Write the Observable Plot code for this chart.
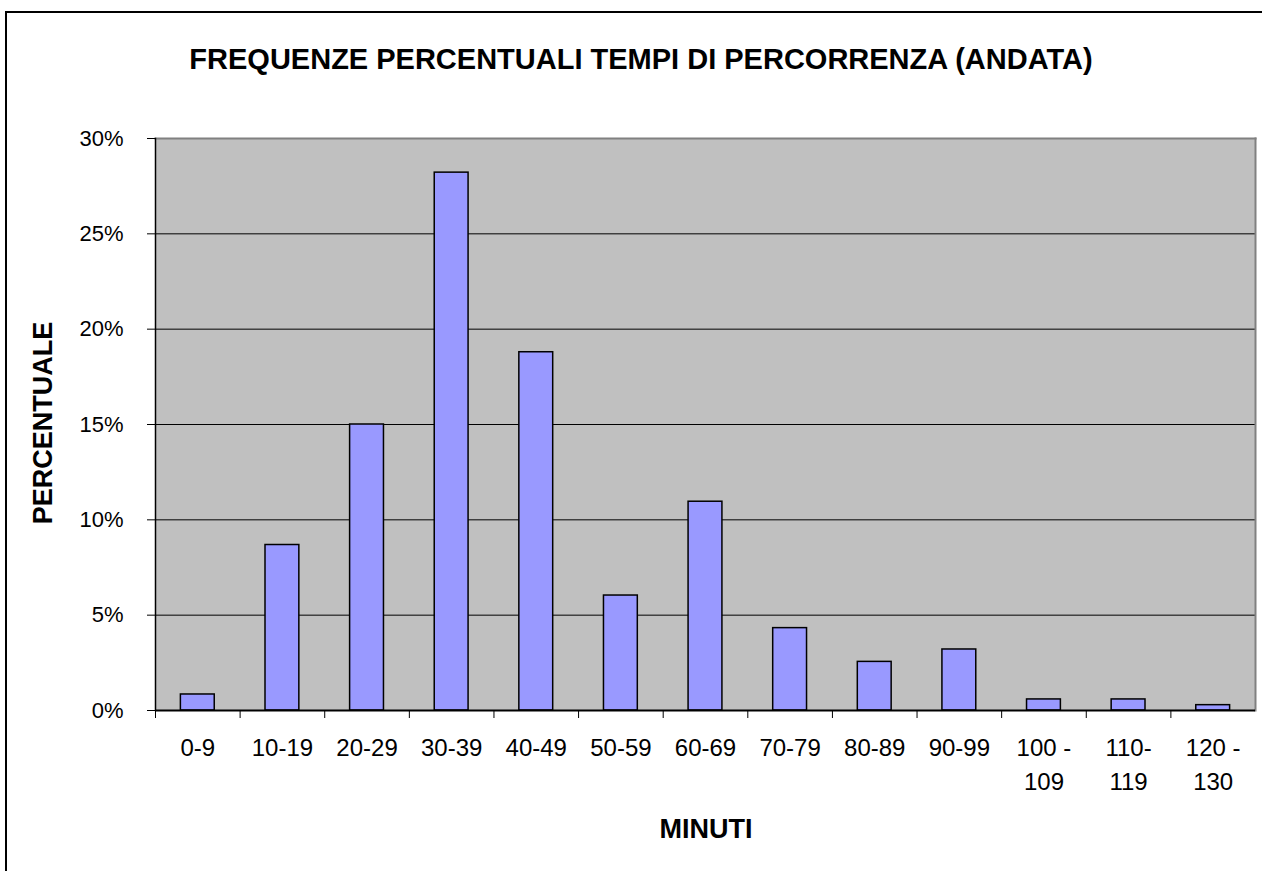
<!DOCTYPE html>
<html>
<head>
<meta charset="utf-8">
<script src="https://cdn.jsdelivr.net/npm/d3@7"></script>
<script src="https://cdn.jsdelivr.net/npm/@observablehq/plot@0.6"></script>
<style>
  html, body { margin: 0; padding: 0; background: #fff; }
  #chart { position: relative; width: 1262px; height: 871px; overflow: hidden; }
</style>
</head>
<body>
<div id="chart"></div>
<script>
const categories = ["0-9", "10-19", "20-29", "30-39", "40-49", "50-59", "60-69", "70-79", "80-89", "90-99", "100 -\n109", "110-\n119", "120 -\n130"];
const percentages = [0.84, 8.68, 15.0, 28.21, 18.79, 6.03, 10.95, 4.32, 2.55, 3.2, 0.58, 0.58, 0.28];
const yTicks = [0, 5, 10, 15, 20, 25, 30];
const gridTicks = [5, 10, 15, 20, 25];
const titleText = "FREQUENZE PERCENTUALI TEMPI DI PERCORRENZA (ANDATA)";
const xTitle = "MINUTI";
const yTitle = "PERCENTUALE";

const data = categories.map((c, i) => ({cat: c, value: percentages[i]}));

const W = 1262, H = 871;
const mL = 155, mR = 7, mT = 138, mB = 161;
const step = (W - mL - mR) / categories.length;
const font = "'Liberation Sans', Arial, sans-serif";

const plot = Plot.plot({
  width: W,
  height: H,
  marginLeft: mL,
  marginRight: mR,
  marginTop: mT,
  marginBottom: mB,
  style: {fontFamily: font, background: "transparent", color: "#000"},
  x: {domain: categories, paddingInner: 0.6, paddingOuter: 0.3, round: false, label: null},
  y: {domain: [0, 30], label: null},
  marks: [
    Plot.frame({fill: "#c0c0c0", stroke: null}),
    Plot.gridY(gridTicks, {stroke: "#000", strokeOpacity: 1, strokeWidth: 1}),
    Plot.frame({anchor: "top", stroke: "#808080", strokeWidth: 2}),
    Plot.frame({anchor: "right", stroke: "#808080", strokeWidth: 2}),
    Plot.barY(data, {x: "cat", y: "value", fill: "#9999ff", stroke: "#000", strokeWidth: 1.5}),
    Plot.frame({anchor: "left", stroke: "#000", strokeWidth: 1.5}),
    Plot.ruleY([0], {stroke: "#000", strokeWidth: 2}),
    Plot.axisY({ticks: yTicks, tickFormat: d => d + "%", tickSize: 8, tickPadding: 24, fontSize: 22, label: null}),
    Plot.axisX({tickSize: 8, tickFormat: () => "", dx: -step / 2, label: null}),
    Plot.axisX({tickSize: 0, tickPadding: 22, fontSize: 24, lineHeight: 1.4, label: null})
  ]
});

document.getElementById("chart").appendChild(plot);

const svg = d3.select(plot);
svg.append("path")
  .attr("d", `M6,${H} V12 H${W}`)
  .attr("fill", "none")
  .attr("stroke", "#000")
  .attr("stroke-width", 2);

svg.append("text")
  .attr("x", 641).attr("y", 69)
  .attr("text-anchor", "middle")
  .attr("font-family", font)
  .attr("font-size", 29)
  .attr("font-weight", "bold")
  .text(titleText);

svg.append("text")
  .attr("transform", "translate(52,423) rotate(-90)")
  .attr("text-anchor", "middle")
  .attr("font-family", font)
  .attr("font-size", 27)
  .attr("font-weight", "bold")
  .text(yTitle);

svg.append("text")
  .attr("x", 706).attr("y", 838)
  .attr("text-anchor", "middle")
  .attr("font-family", font)
  .attr("font-size", 27)
  .attr("font-weight", "bold")
  .text(xTitle);
</script>
</body>
</html>
